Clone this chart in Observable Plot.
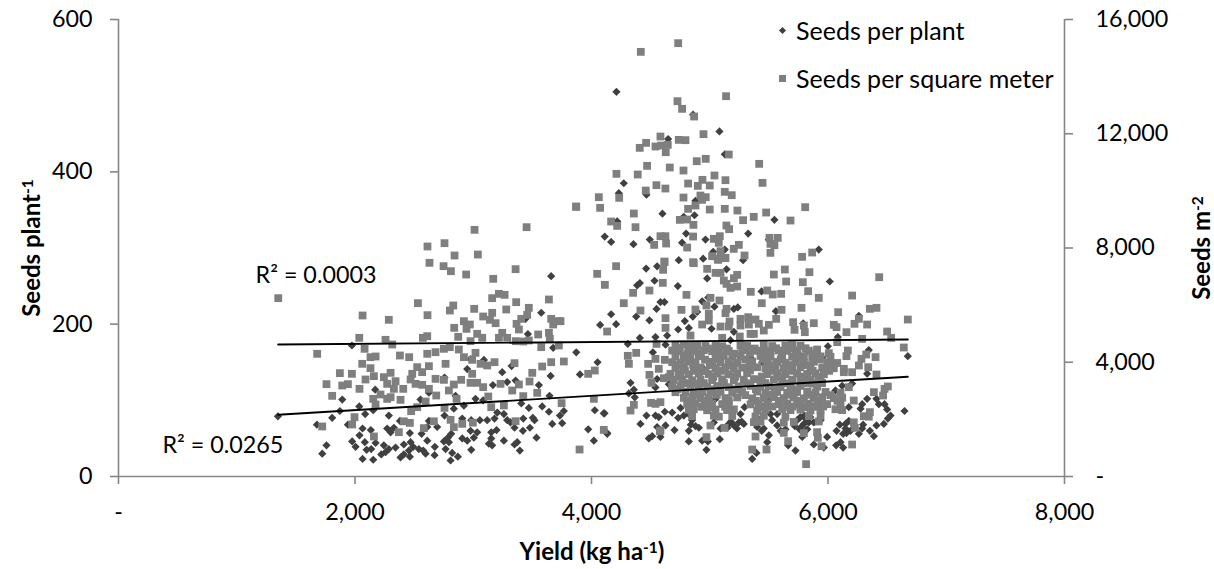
<!DOCTYPE html>
<html><head><meta charset="utf-8">
<script src="https://cdn.jsdelivr.net/npm/d3@7"></script>
<script src="https://cdn.jsdelivr.net/npm/@observablehq/plot@0.6"></script>
<style>
html,body{margin:0;padding:0;background:#fff;}
#wrap{position:relative;width:1214px;height:569px;overflow:hidden;font-family:Lato,sans-serif;color:#000;}
#wrap svg{position:absolute;left:0;top:0;}
.t{position:absolute;white-space:nowrap;font-size:25px;line-height:1;}
.b{font-weight:700;font-size:24px;}
.b sup{font-size:15.5px;line-height:0;vertical-align:7px;}
.m{position:absolute;}
</style></head><body><div id="wrap"></div>
<script>
const yieldTicks=[0,2000,4000,6000,8000];
const plantTicks=[0,200,400,600];
const meterTicks=[0,4000,8000,12000,16000];
const plantTrend=[[1350,81],[6675,131]];
const meterTrend=[[1350,4621],[6675,4796]];
const seedsPerPlant=[
[1348,79],[1678,68],[1759,41],[1723,30],[1807,77],[1892,101],[1872,86],[1974,172],[1940,68],[2036,92],[2086,82],[2154,87],[2171,114],[2064,63],[2134,61],[2038,54],[1976,46],[2005,39],[2083,45],[2174,44],[2098,35],[2137,36],[2064,23],[2154,22],[2222,29],[2244,41],[2286,80],[2272,63],[2329,64],[2301,58],[2380,73],[2464,57],[2563,56],[2611,47],[2413,42],[2470,45],[2492,39],[2456,34],[2286,36],[2343,38],[2258,32],[2385,25],[2413,29],[2464,26],[2540,36],[2577,34],[2597,30],[2675,39],[2673,28],[2766,36],[2794,45],[2752,46],[2814,56],[2786,51],[2808,21],[2822,31],[2870,26],[2983,35],[2907,50],[2949,47],[2977,60],[3005,51],[3033,58],[3132,43],[3160,41],[3152,50],[3197,61],[3152,58],[3259,47],[3372,45],[3349,42],[3394,34],[3535,51],[3479,64],[3420,60],[3349,64],[3668,69],[3752,70],[3733,80],[3766,86],[3640,85],[3583,92],[3518,74],[3504,77],[3423,76],[3470,90],[3406,96],[3315,71],[3287,74],[3259,82],[3203,84],[3180,76],[3118,74],[3056,74],[2983,74],[2907,76],[2921,93],[2836,89],[2850,106],[2625,110],[2757,80],[2695,65],[2625,73],[2611,65],[2554,101],[3019,102],[3084,100],[3166,120],[3245,137],[3287,124],[3358,126],[3324,145],[3555,120],[3654,132],[3645,106],[3462,187],[3575,215],[3659,263],[3676,169],[3871,163],[3902,134],[3090,153],[2949,141],[2757,130],[2977,154],[3442,207],
[4211,505],[4859,475],[5082,453],[4648,443],[5127,423],[4273,385],[4231,372],[4465,370],[4600,345],[4871,343],[4879,362],[4780,341],[4217,335],[5547,337],[4112,315],[4166,308],[4355,305],[4493,311],[4800,319],[4766,307],[4964,311],[5325,319],[5499,311],[5922,298],[5127,298],[5029,295],[4944,286],[5282,284],[4738,284],
[4462,273],[4555,276],[5142,272],[4978,260],[4730,250],[4409,254],[4386,251],[4533,257],[6015,256],[5438,243],[4936,230],[4987,235],[4583,229],[4617,229],[4550,220],[5040,223],[5204,220],[5237,222],[4894,216],[4857,210],[5559,217],[4166,213],[4378,210],[4208,200],[4490,205],[4789,204],[4733,193],[4823,195],[5015,194],[5204,190],[5790,201],[6261,211],[6083,183],[4409,182],[4541,183],[4640,185],[4307,174],[4519,163],[4626,173],[5999,171],[6345,166],[6675,158],[5133,168],[5175,179],[5951,156],[4950,141],[5345,156],[5302,143],[5443,150],[6331,135],[4330,123],[4358,114],[4316,109],[4366,104],[4555,128],[4654,121],[4541,117],[6204,122],[6120,119],[6063,113],[6035,105],[6176,91],[6331,102],[6289,95],[6275,89],[6410,102],[6430,95],[6478,95],[6500,88],[6529,80],[6506,76],[6472,69],[6410,67],[6297,68],[6647,86],[6354,60],[6388,53],[6289,63],[6176,73],[6148,69],[6100,68],[6072,60],[6148,63],[6190,60],[6128,56],[6156,57],[6261,56],[6106,45],[6069,41],[6128,38],[5993,52],[5965,38],[5880,42],[5725,34],[5663,41],[5782,52],[5486,45],[5500,54],[5395,31],[5359,23],[4972,35],[4823,46],[4936,47],[4984,46],[5085,49],[4823,60],[4908,64],[4702,61],[4626,67],[4555,65],[4583,52],[4513,53],[4485,50],[4414,69],[4465,80],[4541,80],[4569,78],[4620,85],[4682,84],[4753,90],[4733,77],[4110,83],[4132,57],[5091,63],[5161,69],[5204,67],[5246,71],[5294,91],[5260,82],[5288,69],[5401,65],[5457,63],[5514,82],[5528,74],[5570,82],[5570,67],[5767,78],[5810,76],[5796,69],[5838,71],[5739,74],[5937,74],[5880,71],[4781,80],[4823,82],[4851,74],[5035,71],[5049,102],[5528,109],[5500,100],
[4051,150],[4028,87],[4104,83],[3972,62],[4020,47],[4133,56],[4073,199],
[5150,64],[5180,72],[5230,63],[5270,72],[5780,66],[5825,62],[5760,62],[5800,80],[5850,78],[4840,68],[4880,66],[5420,74],[5440,60],[5600,60],[5640,62],[5720,66]
];
const seedsPerSquareMeter=[
[3871,9453],[3451,8729],[3011,8636],[2757,8169],[2613,8053],[2842,7737],[3039,7772],[2630,7481],[2749,7364],[2811,7189],[2940,7072],[3358,7259],[3169,6921],[1351,6244],[3217,6395],[3265,6360],[3160,6244],[3640,6197],[2532,6069],[3363,6104],[2831,5987],[2802,5812],[3008,5870],[3279,5847],[3470,5905],[2064,5637],[2286,5485],[2613,5648],[3160,5730],[3084,5602],[3456,5660],[2921,5438],[3141,5485],[3406,5520],[3659,5520],[3724,5438],[2971,5322],[3189,5368],[3366,5345],[3676,5322],[2839,5205],[2943,5170],[3386,5147],[3033,4995],[3245,5030],[3549,4972],[3640,5030],[2036,4855],[2258,4785],[2611,4913],[2574,4855],[2873,4890],[3076,4855],[3217,4855],[3287,4855],[3470,4762],[3648,4820],[2315,4622],[2977,4738],[3360,4738],[3423,4727],[2081,4470],[1680,4295],[3724,4587],[3575,4528],[2802,4528],[2752,4470],[2681,4353],[2878,4446],[3019,4330],[2131,4178],[2174,4202],[2380,4236],[2458,4178],[2611,4295],[2921,4178],[2061,3945],[2131,3793],[2526,3828],[2625,3863],[2766,3945],[2991,4085],[3062,3945],[3118,3886],[3180,4003],[3349,3968],[3583,3851],[3659,4003],[3766,4026],[1872,3618],[1974,3595],[2160,3513],[2301,3630],[2484,3595],[2568,3653],[2991,3595],[3499,3630],[2089,3396],[2244,3478],[2343,3338],[2470,3396],[2681,3419],[2752,3384],[2898,3384],[1759,3233],[1892,3186],[1940,3233],[2272,3244],[2512,3244],[2568,3209],[2836,3221],[2977,3280],[3033,3280],[3231,3244],[3476,3326],[3386,3221],[2038,3069],[2329,3069],[2408,3069],[2625,3069],[2794,3011],[3084,3128],[3330,3011],[3541,2929],[1807,2824],[2216,2871],[2272,2719],[2301,2777],[2385,2684],[2687,2836],[2597,2626],[2859,2719],[3127,2801],[3423,2813],[2154,2719],[2174,2521],[2526,2428],[2475,2287],[2757,2404],[3152,2428],[3259,2486],[3747,2568],[1996,2077],[1976,1821],[1723,1751],[2413,1931],[2464,1877],[2667,1931],[2997,1885],[3358,1936],[2808,1984],[2836,1727],[2907,1844],[2582,1693],[2371,1552],[2160,1401],[3899,945],
[4733,15171],[4417,14867],[5138,13315],[4727,13140],[4766,12872],[4868,12603],[4947,11985],[4583,11903],[4462,11681],[4408,11506],[4541,11553],[4589,11588],[4645,11611],[4738,11786],[4795,11775],[4628,11354],[5161,11273],[4966,11121],[4890,11039],[5418,10946],[4470,10876],[4662,10818],[4778,10713],[4211,10596],[4391,10573],[5040,10538],[4938,10386],[5133,10374],[4817,10257],[4899,10176],[5000,10188],[4549,10199],[4625,10082],[5446,10281],[4459,10012],[5127,9966],[5186,9849],[4062,9779],[4234,9756],[4778,9767],[4921,9837],[4966,9779],[4935,9686],[3870,9441],[4073,9406],[4879,9487],[4817,9371],[5000,9347],[5127,9371],[5234,9312],[5807,9429],[4358,9207],[5477,9242],[5372,9090],[4166,8927],[4217,8775],[4372,8729],[4747,8985],[4809,8997],[5282,8974],[5683,8962],[4862,8810],[5141,8787],[5164,8659],[4583,8413],[4625,8413],[4859,8402],[5085,8413],[5034,8320],[5505,8355],[5575,8355],[4631,8157],[4530,8110],[5076,8180],[5513,8145],[5547,8098],[4809,8017],[5246,8110],[5203,7970],[5091,7889],[5513,7830],[5866,7842],[5781,7690],[5294,7737],[5020,7714],[5127,7643],[4617,7527],[4859,7503],[5071,7585],
[4208,7364],[4113,6710],[4617,7504],[4606,7235],[4603,6780],[4865,7469],[5068,7620],[5133,7655],[4978,7270],[5049,7130],[5091,7130],[5232,7060],[5204,6943],[5119,6862],[5142,6745],[5175,6605],[5232,6652],[5542,7072],[5635,7247],[5843,7153],[5646,6827],[5787,6803],[6433,6978],[5832,6488],[5347,6465],[5486,6512],[5533,6372],[5604,6395],[5922,6255],[6204,6336],[4352,6430],[4490,6512],[4273,6068],[4803,6360],[5006,6255],[5082,6162],[4972,5986],[5440,6068],[4414,5811],[4761,5835],[4879,5846],[5142,5870],[5133,5718],[4992,5695],[5607,5835],[5776,5905],[6086,5753],[6354,5870],[6410,5905],[5562,5520],[5880,5368],[6675,5496],[4626,5543],[4626,5204],[4132,5076],[4936,5321],[4992,5461],[5091,5251],[5167,5426],[5161,5251],[5260,5520],[5325,5578],[5387,5496],[5260,5286],[5331,5321],[5415,5345],[5500,5310],[5705,5403],[5717,5135],[5796,5286],[5804,5053],[6049,5310],[6072,5228],[6224,5345],[6331,5321],[6261,5520],[6156,5053],[6500,5076],[6534,4854],[6289,4819],[6078,4703],[6641,4516],[6168,4411],[6156,4213],[6007,4318],[5908,4446],[6402,4178],[6323,4271],[6283,4119],[6261,3886],[6049,3944],[6340,3827],[6410,3571],[6204,3652],[6134,3652],[4378,4329],[4307,4224],[4316,3944],[4479,3944],[4541,4119],[4620,4084],[4569,3769],[4490,3559],[4507,3279],[4612,3442],[4654,3477],[4550,4644],[5345,4994],[5457,5111],[4837,4936],[5105,4854],[5254,4901],[5373,4994],
[4048,7095],[3738,5438],[3972,3594],[4028,3711],[4020,2719],[4104,1633],[4330,2310],[4358,2509],[4578,1587],[4504,2579],[4541,2544],[4583,2602],
[4710,4586],[4781,4610],[4837,4570],[4894,4596],[4964,4575],[5049,4600],[5105,4562],[5260,4590],[5316,4570],[5457,4596],[5528,4566],[5640,4580],[5697,4600],[5767,4575],
[4682,4411],[4738,4390],[4823,4425],[4879,4400],[4950,4420],[5020,4385],[5077,4415],[5161,4395],[5274,4420],[5401,4400],[5457,4425],[5514,4390],[5584,4412],[5655,4398],[5739,4420],[5838,4405],[5908,4380],
[4710,4201],[4781,4220],[4837,4185],[4908,4210],[5049,4195],[5119,4225],[5190,4190],[5260,4205],[5429,4222],[5514,4188],[5612,4210],[5697,4195],[5796,4215],[5866,4180],[5937,4205],[6021,4190],
[4682,4003],[4753,3985],[4823,4020],[4879,3995],[5020,4015],[5091,3990],[5161,4010],[5232,3980],[5359,4020],[5486,3995],[5570,4012],[5640,3985],[5725,4005],[5796,3990],[5880,4018],[5993,3995],[6078,3975],
[4710,3804],[4781,3825],[4865,3790],[4922,3815],[5049,3795],[5133,3820],[5204,3785],[5274,3810],[5401,3825],[5471,3795],[5556,3815],[5626,3785],[5697,3805],[5767,3825],[5852,3795],[5951,3815],[6049,3790],[6134,3770],
[4668,3594],[4738,3615],[4823,3580],[4908,3605],[4992,3585],[5063,3610],[5161,3575],[5232,3600],[5316,3620],[5486,3585],[5570,3610],[5640,3578],[5739,3605],[5824,3590],[5894,3612],[5965,3580],
[4696,3384],[4767,3405],[4851,3370],[4922,3395],[5020,3375],[5105,3402],[5204,3365],[5288,3390],[5373,3410],[5429,3375],[5542,3398],[5612,3368],[5697,3392],[5767,3410],[5852,3380],[5937,3400],
[4682,3151],[4753,3170],[4837,3135],[4908,3160],[4978,3140],[5063,3168],[5161,3130],[5246,3155],[5345,3175],[5429,3140],[5500,3162],[5598,3132],[5683,3158],[5767,3172],[5908,3145],
[4710,2952],[4795,2970],[4865,2935],[4936,2960],[5006,2940],[5091,2968],[5190,2930],[5274,2955],[5401,2975],[5471,2940],[5570,2962],[5655,2932],[5739,2958],[5824,2972],[5894,2945],[5979,2960],[6106,2935],
[4781,2754],[4851,2775],[4922,2740],[4992,2765],[5133,2745],[5232,2770],[5359,2735],[5457,2760],[5542,2778],[5626,2745],[5711,2765],[5796,2735],[5880,2760],[5951,2775],[6049,2745],[6120,2762],
[4809,2544],[4879,2565],[4964,2530],[5020,2555],[5105,2535],[5161,2560],[5345,2525],[5415,2550],[5486,2568],[5584,2535],[5655,2555],[5739,2525],[5838,2550],[5908,2565],[5993,2535],[6106,2552],
[4823,2334],[4865,2355],[4978,2320],[5049,2345],[5147,2325],[5204,2350],[5401,2315],[5471,2340],[5612,2358],[5683,2325],[5767,2345],[5852,2315],[5937,2340],[6063,2355],[6120,2325],
[4851,2112],[5035,2130],[5077,2095],[5190,2120],[5387,2100],[5457,2125],[5640,2090],[5838,2115],[5937,2130],[6303,2112],[6345,2095],
[5373,1902],[5429,1920],[5626,1885],[5711,1910],[5922,1925],[6218,1895],
[5006,1785],[5125,1704],[5387,1400],[5626,1528],[5796,1517],[5908,1552],[5914,1354],[5945,1062],[6204,1120],[4972,1377],[5663,1237],[5480,945],[5359,945],[5815,432],[4583,1610],[6354,2252],[6227,1704],[6176,3127],[6218,2660],[6388,2952],[6466,2835],[6478,3069],[6506,3151],
[4745,4500],[4810,4310],[4865,4490],[4925,4320],[4985,4480],[5075,4300],[5145,4480],[5210,4300],[5300,4490],[5340,4300],[5380,4480],[5490,4310],[5560,4490],[5610,4320],[5680,4480],[5730,4300],[5810,4490],[5885,4290],
[4740,3900],[4800,4100],[4860,3910],[4960,4090],[5000,3900],[5075,4100],[5185,3900],[5300,4100],[5340,3890],[5450,4100],[5520,3900],[5600,4100],[5680,3900],[5750,4100],[5820,3900],[5930,4100],[6000,3890],
[4750,3500],[4790,3710],[4880,3700],[4965,3690],[5030,3490],[5105,3700],[5215,3490],[5340,3710],[5440,3500],[5520,3700],[5600,3490],[5690,3700],[5790,3500],[5870,3700],[5920,3490],[6010,3700],
[4725,3060],[4800,3270],[4870,3250],[4950,3270],[5030,3050],[5120,3270],[5220,3050],[5310,3260],[5390,3060],[5470,3270],[5550,3050],[5640,3260],[5720,3050],[5810,3270],[5870,3250],[5950,3270],
[4820,2650],[4900,2860],[4955,2650],[5060,2860],[5160,2660],[5300,2850],[5390,2650],[5500,2860],[5590,2650],[5680,2860],[5770,2650],[5850,2860],[5930,2660],[6020,2850],[6080,2650],
[4850,2450],[4930,2440],[5000,2430],[5130,2440],[5440,2440],[5530,2450],[5620,2440],[5700,2450],[5790,2430],[5880,2440],[5960,2450]
];
const seriesNames=["Seeds per plant","Seeds per square meter"];
const rLabels=[{x:1159,y:264,text:"R² = 0.0003"},{x:372,y:41,text:"R² = 0.0265"}];

const axisGrey="#868686", plantColor="#404040", meterColor="#7f7f7f";
const onPlantScale=v=>v*600/16000;
const fmt=d3.format(",");
const dash=f=>d=>d===0?"-":f(d);

const chart=Plot.plot({
  width:1214,height:569,marginLeft:118,marginRight:150,marginTop:19,marginBottom:93,
  style:{fontFamily:"Lato,sans-serif",fontSize:"23.3px",color:"#000",background:"transparent"},
  x:{domain:[0,8000],label:null},
  y:{domain:[0,600],label:null},
  marks:[
    Plot.dot(seedsPerPlant,{x:d=>d[0],y:d=>d[1],symbol:"diamond2",r:3.7,fill:plantColor,stroke:"none"}),
    Plot.dot(seedsPerSquareMeter,{x:d=>d[0],y:d=>onPlantScale(d[1]),symbol:"square",r:4.4,fill:meterColor,stroke:"none"}),
    Plot.line(plantTrend,{x:d=>d[0],y:d=>d[1],stroke:"#000",strokeWidth:1.9}),
    Plot.line(meterTrend,{x:d=>d[0],y:d=>onPlantScale(d[1]),stroke:"#000",strokeWidth:1.9}),
    Plot.ruleX([0,8000],{stroke:axisGrey,strokeWidth:1.6}),
    Plot.ruleY([0],{stroke:axisGrey,strokeWidth:1.6}),
    Plot.axisX({ticks:yieldTicks,tickFormat:dash(fmt),tickSize:8,tickPadding:19,stroke:axisGrey,strokeWidth:1.6,label:null,color:"#000",fill:"#000"}),
    Plot.axisY({ticks:plantTicks,tickSize:8,tickPadding:18,stroke:axisGrey,strokeWidth:1.6,label:null,fill:"#000"}),
    Plot.axisY({anchor:"right",ticks:meterTicks.map(onPlantScale),tickFormat:dash(d=>fmt(Math.round(d*16000/600))),tickSize:8,tickPadding:23,stroke:axisGrey,strokeWidth:1.6,label:null,fill:"#000"}),
    Plot.text(rLabels,{x:"x",y:"y",text:"text",textAnchor:"start",fill:"#000"})
  ]
});
const wrap=document.getElementById("wrap");
wrap.appendChild(chart);
function add(html,css,cls){const e=document.createElement("div");e.className=cls||"t";e.innerHTML=html;e.style.cssText=css;wrap.appendChild(e);return e;}
add("Yield (kg ha<sup>-1</sup>)","left:592px;top:551px;transform:translate(-50%,-50%);","t b");
add("Seeds plant<sup>-1</sup>","left:31px;top:248px;transform:translate(-50%,-50%) rotate(-90deg);","t b");
add("Seeds m<sup>-2</sup>","left:1201px;top:248px;transform:translate(-50%,-50%) rotate(-90deg);","t b");
add(seriesNames[0],"left:796px;top:30px;transform:translateY(-50%);");
add(seriesNames[1],"left:796px;top:78px;transform:translateY(-50%);");
add("","left:779.5px;top:27.5px;width:5px;height:5px;background:"+plantColor+";transform:rotate(45deg);","m");
add("","left:778.5px;top:74.5px;width:7px;height:7px;background:"+meterColor+";","m");
</script></body></html>
